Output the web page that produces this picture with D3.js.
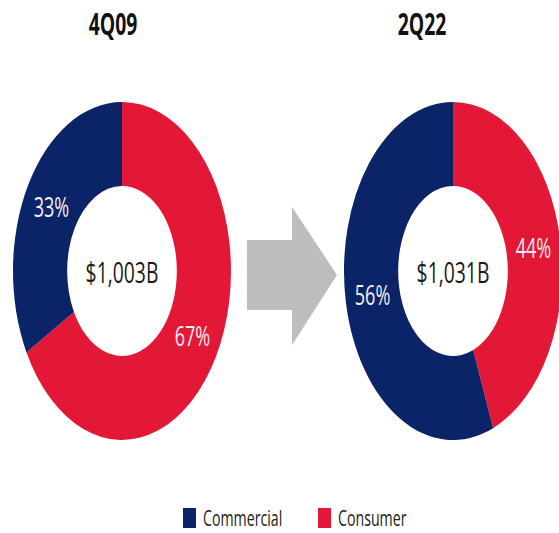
<!DOCTYPE html>
<html>
<head>
<meta charset="utf-8">
<script src="https://cdn.jsdelivr.net/npm/d3@7"></script>
<style>
  html, body { margin: 0; padding: 0; background: #ffffff; }
  svg { display: block; }
  text { font-family: "Open Sans", "Noto Sans", sans-serif; }
</style>
</head>
<body>
<svg id="chart" width="559" height="533"></svg>
<script>
// ---- data ----
const periods = ["4Q09", "2Q22"];
const totals = ["$1,003B", "$1,031B"];
const categories = ["Consumer", "Commercial"];        // drawing order (clockwise from top)
const consumerShare = [67, 44];
const commercialShare = [33, 56];
const legendOrder = ["Commercial", "Consumer"];

// ---- layout ----
const W = 559, H = 533;
const sx = 0.645;                 // the graphic is horizontally condensed
const outerR = 169, innerR = 85;
const centerY = 271;
const colors = d3.scaleOrdinal().domain(["Commercial", "Consumer"]).range(["#0b2468", "#e31837"]);

const svg = d3.select("#chart");
const g = svg.append("g").attr("transform", `scale(${sx},1)`);

// x positions of the two donuts (in condensed pixel space)
const xPos = d3.scalePoint().domain(periods).range([122, 453]);

const pie = d3.pie().sort(null).value(d => d.value);
const arc = d3.arc().innerRadius(innerR).outerRadius(outerR);
const labelArc = d3.arc().innerRadius(innerR).outerRadius(outerR);

periods.forEach((p, i) => {
  const data = [
    { cat: "Consumer", value: consumerShare[i] },
    { cat: "Commercial", value: commercialShare[i] }
  ];
  const cx = xPos(p) / sx;
  const dg = g.append("g").attr("transform", `translate(${cx},${centerY})`);
  const arcs = pie(data);
  dg.selectAll("path").data(arcs).enter().append("path")
    .attr("d", arc)
    .attr("fill", d => colors(d.data.cat));
  dg.selectAll("text.pct").data(arcs).enter().append("text")
    .attr("class", "pct")
    .attr("x", d => labelArc.centroid(d)[0])
    .attr("y", d => labelArc.centroid(d)[1])
    .attr("text-anchor", "middle")
    .attr("dominant-baseline", "central")
    .attr("fill", "#f6eef0")
    .attr("font-size", 28)
    .text(d => d.data.value + "%");
  dg.append("text")
    .attr("x", 0).attr("y", 0)
    .attr("text-anchor", "middle")
    .attr("dominant-baseline", "central")
    .attr("fill", "#1a1a1a")
    .attr("font-size", 30)
    .text(totals[i]);
});

// titles
const titleX = d3.scalePoint().domain(periods).range([113, 422]);
g.selectAll("text.title").data(periods).enter().append("text")
  .attr("class", "title")
  .attr("x", d => titleX(d) / sx)
  .attr("y", 35)
  .attr("text-anchor", "middle")
  .attr("font-weight", "bold")
  .attr("font-size", 30)
  .attr("fill", "#111")
  .text(d => d);

// arrow
const ax0 = 247 / sx, ax1 = 292 / sx, ax2 = 337 / sx;
g.append("path")
  .attr("d", `M${ax0},240 L${ax1},240 L${ax1},207 L${ax2},275 L${ax1},345 L${ax1},310 L${ax0},310 Z`)
  .attr("fill", "#bdbdbd");

// legend
const legX = d3.scaleOrdinal().domain(legendOrder).range([183, 318]);
const lg = g.selectAll("g.leg").data(legendOrder).enter().append("g")
  .attr("class", "leg")
  .attr("transform", d => `translate(${legX(d) / sx},508)`);
lg.append("rect")
  .attr("width", 13 / sx).attr("height", 20)
  .attr("fill", d => colors(d));
lg.append("text")
  .attr("x", 20 / sx).attr("y", 18)
  .attr("font-size", 22)
  .attr("fill", "#222")
  .text(d => d);
</script>
</body>
</html>
